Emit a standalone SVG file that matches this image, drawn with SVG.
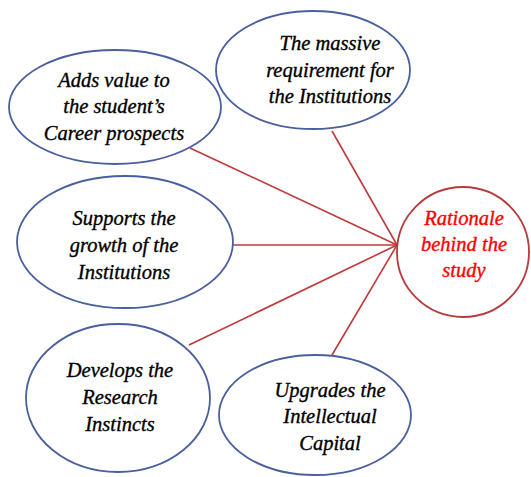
<svg xmlns="http://www.w3.org/2000/svg" width="531" height="477" viewBox="0 0 531 477">
<style>
.n{fill:#fff;stroke:#4a5f9e;stroke-width:1.8}
.c{fill:#fff;stroke:#b8393b;stroke-width:1.8}
.t{font-family:"Liberation Serif","Times New Roman",serif;font-style:italic;font-size:20.5px;fill:#000;stroke:#000;stroke-width:0.35;text-anchor:middle}
.r{fill:#ff0000;stroke:#ff0000}
.e{stroke:#c0393b;stroke-width:1.6;fill:none}
</style>
<rect width="531" height="477" fill="#fff"/>
<g id="connectors">
<line class="e" x1="190" y1="148" x2="397" y2="245"/>
<line class="e" x1="332" y1="131" x2="397" y2="245"/>
<line class="e" x1="233" y1="245" x2="397" y2="245"/>
<line class="e" x1="189" y1="345" x2="397" y2="245"/>
<line class="e" x1="332" y1="355" x2="397" y2="245"/>
</g>
<g id="n1">
<ellipse class="n" cx="115" cy="107" rx="106" ry="57"/>
<text class="t" x="114" y="87">Adds value to</text>
<text class="t" x="114" y="113">the student’s</text>
<text class="t" x="114" y="140">Career prospects</text>
</g>
<g id="n2">
<ellipse class="n" cx="313" cy="70" rx="97" ry="59"/>
<text class="t" x="330" y="50">The massive</text>
<text class="t" x="330" y="77">requirement for</text>
<text class="t" x="330" y="103">the Institutions</text>
</g>
<g id="n3">
<ellipse class="n" cx="125" cy="242" rx="108" ry="66"/>
<text class="t" x="124" y="225">Supports the</text>
<text class="t" x="124" y="252">growth of the</text>
<text class="t" x="124" y="279">Institutions</text>
</g>
<g id="n4">
<ellipse class="n" cx="118" cy="398" rx="92" ry="74"/>
<text class="t" x="120" y="377">Develops the</text>
<text class="t" x="120" y="404">Research</text>
<text class="t" x="120" y="431">Instincts</text>
</g>
<g id="n5">
<ellipse class="n" cx="315" cy="415" rx="96" ry="60"/>
<text class="t" x="330" y="397">Upgrades the</text>
<text class="t" x="330" y="423">Intellectual</text>
<text class="t" x="330" y="450">Capital</text>
</g>
<g id="center">
<ellipse class="c" cx="463" cy="252" rx="66" ry="65"/>
<text class="t r" x="464" y="225">Rationale</text>
<text class="t r" x="464" y="251">behind the</text>
<text class="t r" x="464" y="277">study</text>
</g>
</svg>
